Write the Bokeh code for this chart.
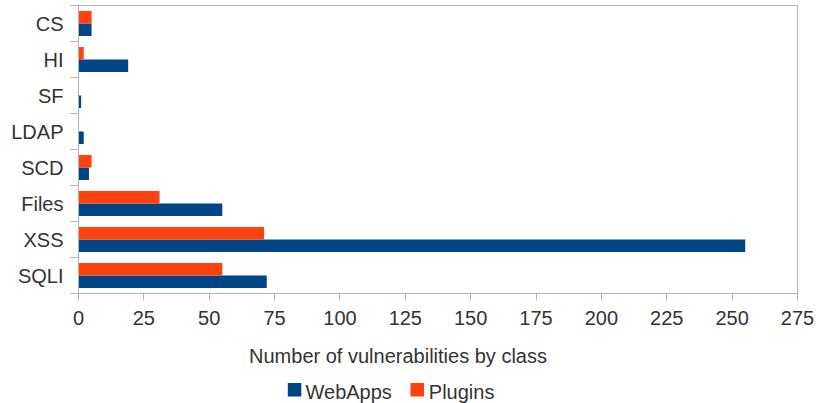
from bokeh.plotting import figure
from bokeh.layouts import column
from bokeh.models import ColumnDataSource, FixedTicker, Range1d
from bokeh.core.properties import value
from bokeh.embed import file_html
from bokeh.resources import INLINE

# Vulnerability classes, listed bottom to top
categories = ["SQLI", "XSS", "Files", "SCD", "LDAP", "SF", "HI", "CS"]
webapps = [72, 255, 55, 4, 2, 1, 19, 5]
plugins = [55, 71, 31, 5, 0, 0, 2, 5]
x_ticks = [0, 25, 50, 75, 100, 125, 150, 175, 200, 225, 250, 275]
series_names = ["WebApps", "Plugins"]
axis_title = "Number of vulnerabilities by class"

BLUE = "#004586"
ORANGE = "#ff420e"
TEXT = "#333333"
GRID = "#b3b3b3"
FONT = "Liberation Sans"
FS = "20px"
BAR_H = 0.35

W = 817
TOP_H = 335      # chart part
BOT_H = 68       # axis title + legend strip
LEFT, RIGHT = 78, 20

n = len(categories)
centers = [i + 0.5 for i in range(n)]

src = ColumnDataSource(dict(
    cat=categories,
    web=webapps,
    plug=plugins,
    y_web=[c - BAR_H / 2 for c in centers],
    y_plug=[c + BAR_H / 2 for c in centers],
))

p = figure(width=W, height=TOP_H, output_backend="svg", toolbar_location=None,
           x_range=Range1d(0, 275), y_range=Range1d(0, n),
           min_border_left=LEFT, min_border_right=RIGHT, min_border_top=5,
           min_border_bottom=42)

p.hbar(y="y_web", left=0, right="web", height=BAR_H, source=src,
       fill_color=BLUE, line_color=None)
p.hbar(y="y_plug", left=0, right="plug", height=BAR_H, source=src,
       fill_color=ORANGE, line_color=None)

p.grid.visible = False
p.outline_line_color = GRID
p.outline_line_width = 1
p.background_fill_color = "white"
p.border_fill_color = "white"

# x axis
xa = p.xaxis[0]
xa.ticker = FixedTicker(ticks=x_ticks)
xa.axis_line_color = GRID
xa.major_tick_line_color = GRID
xa.major_tick_in = 0
xa.major_tick_out = 7
xa.minor_tick_line_color = None
xa.major_label_text_font = FONT
xa.major_label_text_font_size = FS
xa.major_label_text_color = TEXT
xa.major_label_standoff = 10

# y axis: labels at category centres, tick marks at category boundaries
ya = p.yaxis[0]
ya.ticker = FixedTicker(ticks=centers, minor_ticks=list(range(n + 1)))
ya.major_label_overrides = {c: name for c, name in zip(centers, categories)}
ya.axis_line_color = GRID
ya.major_tick_line_color = None
ya.major_tick_in = 0
ya.major_tick_out = 0
ya.minor_tick_line_color = GRID
ya.minor_tick_in = 0
ya.minor_tick_out = 8
ya.major_label_text_font = FONT
ya.major_label_text_font_size = FS
ya.major_label_text_color = TEXT
ya.major_label_standoff = 7

# Strip below the chart: axis title and legend, in page-pixel coordinates
q = figure(width=W, height=BOT_H, output_backend="svg", toolbar_location=None,
           x_range=Range1d(LEFT, W - RIGHT), y_range=Range1d(TOP_H + BOT_H, TOP_H),
           min_border_left=LEFT, min_border_right=RIGHT,
           min_border_top=0, min_border_bottom=0)
q.axis.visible = False
q.grid.visible = False
q.outline_line_color = None
q.background_fill_color = "white"
q.border_fill_color = "white"

TEXT_SHIFT = 5   # alphabetic baseline sits a little low in the svg backend

q.text(x=[397.5], y=[360 - TEXT_SHIFT], text=[axis_title], text_align="center",
       text_baseline="alphabetic", text_font=value(FONT), text_font_size=FS,
       text_color=TEXT)

box = 13.5
sq_left = [287.3, 410.0]
txt_left = [305.0, 428.3]
baseline = 396
q.rect(x=[s + box / 2 for s in sq_left], y=[baseline - box / 2] * 2,
       width=box, height=box, fill_color=[BLUE, ORANGE], line_color=None)
q.text(x=txt_left, y=[baseline - TEXT_SHIFT] * 2, text=series_names,
       text_align="left", text_baseline="alphabetic", text_font=value(FONT),
       text_font_size=FS, text_color=TEXT)

layout = column(p, q, spacing=0)
open("out.html", "w").write(file_html(layout, INLINE))
